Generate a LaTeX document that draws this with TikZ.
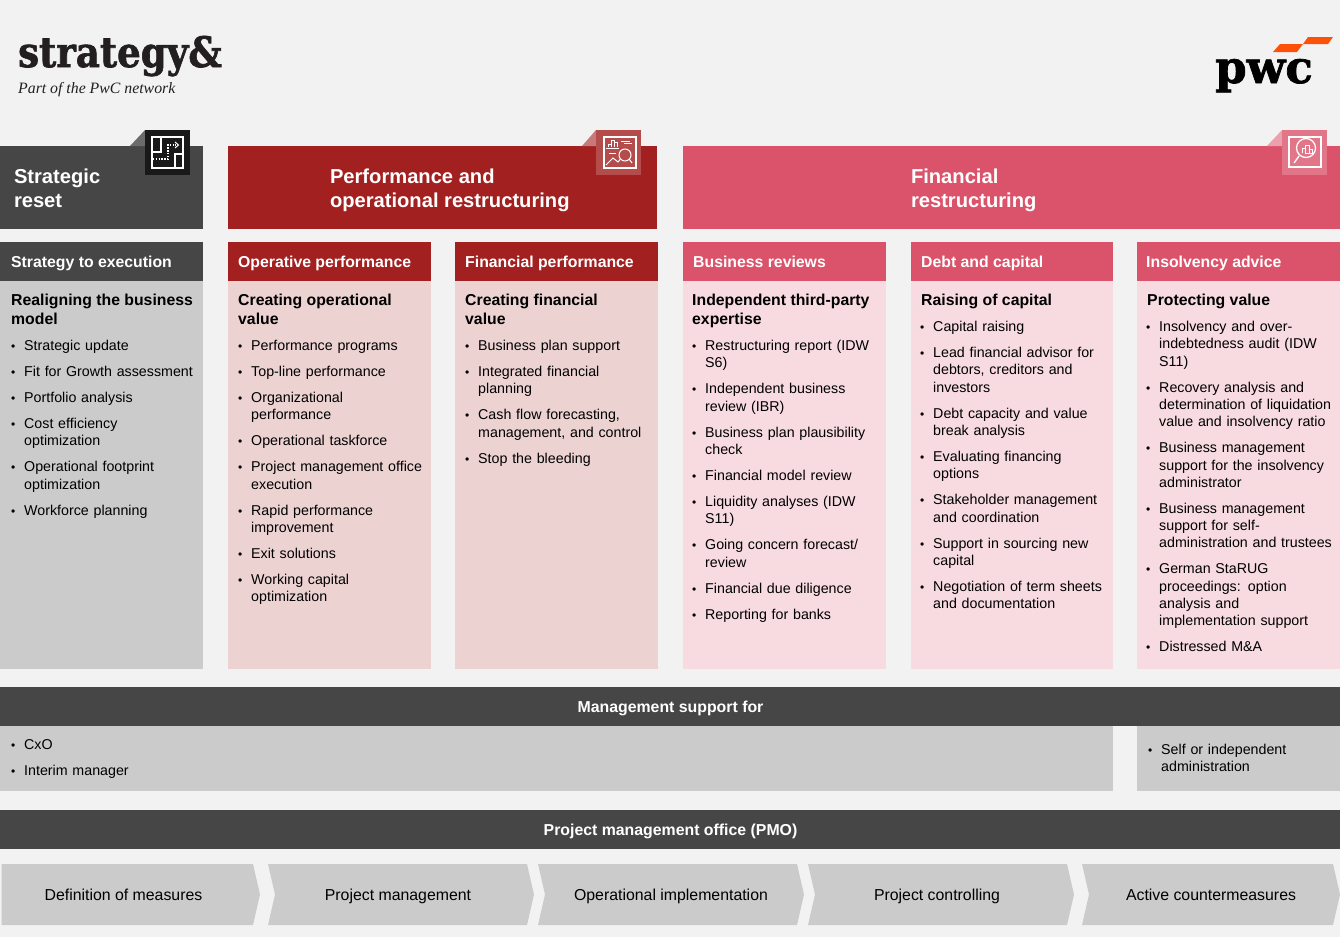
\documentclass[tikz,border=0pt]{standalone}
\usepackage{fontspec}
\setmainfont{Liberation Sans}
\newfontfamily\logofont[BoldFeatures={FakeBold=1.6}]{DejaVu Serif}
\newfontfamily\claimfont{Liberation Serif}
\usetikzlibrary{positioning,calc}
\definecolor{pagegray}{HTML}{F2F2F2}
\definecolor{darkgray}{HTML}{464646}
\definecolor{midgray}{HTML}{CBCBCB}
\definecolor{darkred}{HTML}{A32020}
\definecolor{rose}{HTML}{DB536A}
\definecolor{redbody}{HTML}{EDD2D2}
\definecolor{rosebody}{HTML}{F7DBE0}
\definecolor{logoblack}{HTML}{231F20}
\definecolor{pwcorange}{HTML}{FD5108}
\newenvironment{bullist}{\begin{list}{{\fontsize{12}{12}\selectfont\textbullet}}{%
	\setlength{\topsep}{0pt}\setlength{\partopsep}{0pt}\setlength{\parsep}{0pt}%
	\setlength{\itemsep}{8.7pt}\setlength{\leftmargin}{13pt}\setlength{\labelwidth}{13pt}%
	\setlength{\labelsep}{0pt}\setlength{\itemindent}{0pt}\setlength{\rightmargin}{0pt}%
	\renewcommand{\makelabel}[1]{##1\hfil}}\raggedright}{\end{list}}
\tikzset{
	box/.style={anchor=north west,inner sep=0,outer sep=0,text=white},
	pillar/.style={box,font=\bfseries\fontsize{20.15}{24}\selectfont,align=left},
	subhead/.style={anchor=base west,inner sep=0,text=white,font=\bfseries\fontsize{15.8}{18}\selectfont},
	lead/.style={anchor=north west,inner sep=0,align=left,text=black,font=\bfseries\fontsize{15.8}{19}\selectfont},
	bultext/.style={anchor=north west,inner sep=0,text=black,text width=#1,font=\fontsize{14.25}{17.3}\selectfont},
	bultext/.default=205pt,
	bartext/.style={anchor=base,inner sep=0,text=white,font=\bfseries\fontsize{15.85}{18}\selectfont},
	steptext/.style={anchor=base,inner sep=0,text=black,font=\fontsize{15.85}{19}\selectfont},
	iconline/.style={draw=white,line width=1.3pt},
	iconthin/.style={draw=white,line width=1pt},
	icondots/.style={draw=white,line width=1.4pt,dash pattern=on 1.4pt off 1.4pt}
}
\begin{document}
\begin{tikzpicture}[x=1pt,y=-1pt]
	\useasboundingbox (0,0) rectangle (1340,937);
	\fill[pagegray] (0,0) rectangle (1340,937);

	%%%logos
	\node[anchor=base west,inner sep=0,xscale=.885,text=logoblack,font=\logofont\bfseries\fontsize{42}{42}\selectfont] (strategy) at (18,67) {strategy\&};
	\node[anchor=base west,inner sep=0,text=logoblack,font=\claimfont\itshape\fontsize{15.8}{16}\selectfont] (claim) at (18,93) {Part of the PwC network};
	\node[anchor=base west,inner sep=0,text=black,font=\logofont\bfseries\fontsize{45}{45}\selectfont] (pwc) at (1215,83) {pwc};
	\fill[pwcorange] (1273,52) -- (1280,44) -- (1303,44) -- (1297,52) -- cycle;
	\fill[pwcorange] (1303,44) -- (1308,37) -- (1333,37) -- (1328,44) -- cycle;

	%%%pillars
	\fill[darkgray] (0,146) rectangle (203,229);
	\fill[darkred] (228,146) rectangle (657,229);
	\fill[rose] (683,146) rectangle (1340,229);
	\node[pillar] (reset) at (14,169) {Strategic\\reset};
	\node[pillar] (operational) at (330,169) {Performance and\\operational restructuring};
	\node[pillar] (financial) at (911,169) {Financial\\restructuring};

	%%%icon tabs
	\fill[black!58!white] (130,146) -- (145,130) -- (145,146) -- cycle;
	\fill[black!90!white] (145,130) rectangle (190,175);
	\fill[white!40!darkred] (582,146) -- (596,130) -- (596,146) -- cycle;
	\fill[white!20!darkred] (596,130) rectangle (641,175);
	\fill[white!45!rose] (1267,146) -- (1282,130) -- (1282,146) -- cycle;
	\fill[white!20!rose] (1282,130) rectangle (1327,175);

	%icon reset
	\draw[iconline] (152,137) rectangle (183,168);
	\draw[iconline] (161,137) -- (161,152) -- (152,152);
	\draw[iconline] (183,154) -- (175,154) -- (175,168);
	\draw[icondots] (153,159) -- (168,159) -- (168,145) -- (176,145);
	\draw[iconthin] (175,142) -- (178.5,145) -- (175,148);

	%icon performance
	\draw[iconline] (604,137) rectangle (636,168);
	\draw[iconthin] (608,147) -- (608,144) -- (611,144) -- (611,147) (611,147) -- (611,140) -- (614,140) -- (614,147) (614,147) -- (614,142) -- (617,142) -- (617,147);
	\draw[iconthin] (606,148) -- (619,148);
	\draw[iconthin] (621,141) -- (630,141) (624,143.5) -- (632,143.5) (609,153) -- (616,153);
	\draw[iconthin] (606,165) -- (613,158) -- (618,162) -- (620,159.5);
	\draw[iconthin] (625,155) circle (6);
	\draw[iconthin] (629,159) -- (632,163);

	%icon financial
	\draw[iconline] (1289,137) rectangle (1321,167);
	\draw[iconline] (1306,148) circle (9.5);
	\draw[iconline] (1299,156) -- (1294,163);
	\draw[iconthin] (1302,153) -- (1302,148) -- (1305,148) -- (1305,153) (1305,145) rectangle (1309,153) (1309,149) rectangle (1312,153);

	%%%columns
	\fill[darkgray] (0,242) rectangle (203,281);
	\fill[midgray] (0,281) rectangle (203,669);
	\fill[darkred] (228,242) rectangle (431,281);
	\fill[redbody] (228,281) rectangle (431,669);
	\fill[darkred] (455,242) rectangle (658,281);
	\fill[redbody] (455,281) rectangle (658,669);
	\fill[rose] (683,242) rectangle (886,281);
	\fill[rosebody] (683,281) rectangle (886,669);
	\fill[rose] (911,242) rectangle (1113,281);
	\fill[rosebody] (911,281) rectangle (1113,669);
	\fill[rose] (1137,242) rectangle (1340,281);
	\fill[rosebody] (1137,281) rectangle (1340,669);

	\node[subhead] (head1) at (11,267) {Strategy to execution};
	\node[subhead] (head2) at (238,267) {Operative performance};
	\node[subhead] (head3) at (465,267) {Financial performance};
	\node[subhead] (head4) at (693,267) {Business reviews};
	\node[subhead] (head5) at (921,267) {Debt and capital};
	\node[subhead] (head6) at (1146,267) {Insolvency advice};

	\node[lead] (lead1) at (11,294) {Realigning the business\\model};
	\node[lead] (lead2) at (238,294) {Creating operational\\value};
	\node[lead] (lead3) at (465,294) {Creating financial\\value};
	\node[lead] (lead4) at (692,294) {Independent third-party\\expertise};
	\node[lead] (lead5) at (921,294) {Raising of capital};
	\node[lead] (lead6) at (1147,294) {Protecting value};

	\node[bultext] (list1) at (11,333) {\begin{bullist}
		\item Strategic update
		\item Fit for Growth assessment
		\item Portfolio analysis
		\item Cost efficiency\\optimization
		\item Operational footprint\\optimization
		\item Workforce planning
	\end{bullist}};
	\node[bultext] (list2) at (238,333) {\begin{bullist}
		\item Performance programs
		\item Top-line performance
		\item Organizational\\performance
		\item Operational taskforce
		\item Project management office\\execution
		\item Rapid performance\\improvement
		\item Exit solutions
		\item Working capital\\optimization
	\end{bullist}};
	\node[bultext] (list3) at (465,333) {\begin{bullist}
		\item Business plan support
		\item Integrated financial\\planning
		\item Cash flow forecasting,\\management, and control
		\item Stop the bleeding
	\end{bullist}};
	\node[bultext] (list4) at (692,333) {\begin{bullist}
		\item Restructuring report (IDW\\S6)
		\item Independent business\\review (IBR)
		\item Business plan plausibility\\check
		\item Financial model review
		\item Liquidity analyses (IDW\\S11)
		\item Going concern forecast/\\review
		\item Financial due diligence
		\item Reporting for banks
	\end{bullist}};
	\node[bultext] (list5) at (920,314) {\begin{bullist}
		\item Capital raising
		\item Lead financial advisor for\\debtors, creditors and\\investors
		\item Debt capacity and value\\break analysis
		\item Evaluating financing\\options
		\item Stakeholder management\\and coordination
		\item Support in sourcing new\\capital
		\item Negotiation of term sheets\\and documentation
	\end{bullist}};
	\node[bultext] (list6) at (1146,314) {\begin{bullist}
		\item Insolvency and over-\\indebtedness audit (IDW\\S11)
		\item Recovery analysis and\\determination of liquidation\\value and insolvency ratio
		\item Business management\\support for the insolvency\\administrator
		\item Business management\\support for self-\\administration and trustees
		\item German StaRUG\\proceedings: option\\analysis and\\implementation support
		\item Distressed M\&A
	\end{bullist}};

	%%%management support
	\fill[darkgray] (0,687) rectangle (1340,726);
	\fill[midgray] (0,726) rectangle (1113,791);
	\fill[midgray] (1137,726) rectangle (1340,791);
	\node[bartext] (support) at (670.5,712) {Management support for};
	\node[bultext] (listcxo) at (11,732) {\begin{bullist}
		\item CxO
		\item Interim manager
	\end{bullist}};
	\node[bultext] (listself) at (1148,736.5) {\begin{bullist}
		\item Self or independent\\administration
	\end{bullist}};

	%%%pmo
	\fill[darkgray] (0,810) rectangle (1340,849);
	\node[bartext] (pmo) at (670.5,835) {Project management office (PMO)};

	%%%steps
	\fill[midgray] (1.5,864) -- (253,864) -- (260,894.5) -- (253,925) -- (1.5,925) -- cycle;
	\fill[midgray] (268,864) -- (527,864) -- (534,894.5) -- (527,925) -- (268,925) -- (275,894.5) -- cycle;
	\fill[midgray] (538,864) -- (797,864) -- (804,894.5) -- (797,925) -- (538,925) -- (545,894.5) -- cycle;
	\fill[midgray] (808,864) -- (1067,864) -- (1074,894.5) -- (1067,925) -- (808,925) -- (815,894.5) -- cycle;
	\fill[midgray] (1082,864) -- (1333,864) -- (1340,894.5) -- (1333,925) -- (1082,925) -- (1089,894.5) -- cycle;
	\node[steptext] (step1) at (123.5,900.5) {Definition of measures};
	\node[steptext] (step2) at (398,900.5) {Project management};
	\node[steptext] (step3) at (671,900.5) {Operational implementation};
	\node[steptext] (step4) at (937,900.5) {Project controlling};
	\node[steptext] (step5) at (1211,900.5) {Active countermeasures};
\end{tikzpicture}
\end{document}
